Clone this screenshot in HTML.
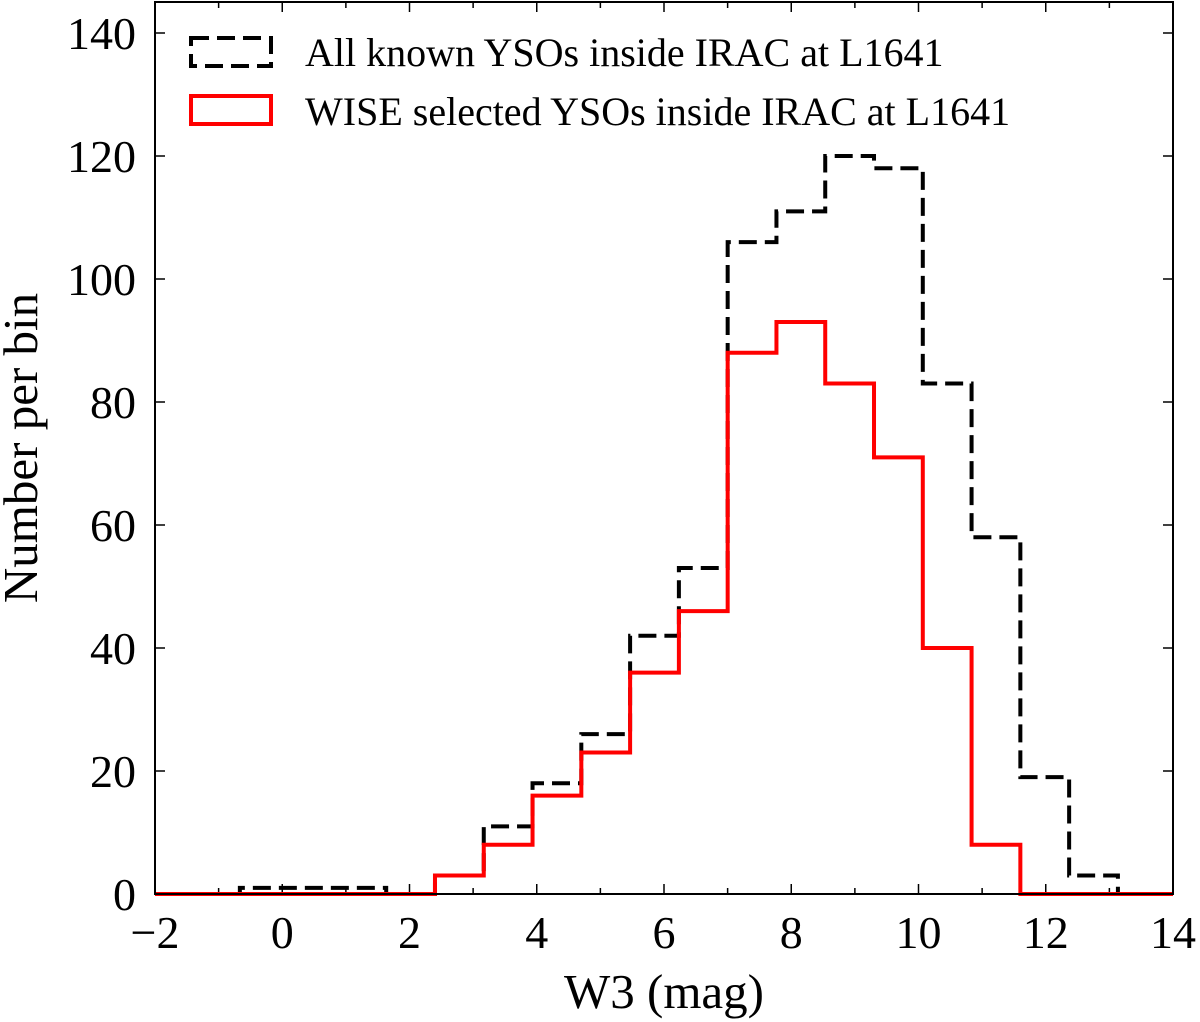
<!DOCTYPE html>
<html><head><meta charset="utf-8"><style>
html,body{margin:0;padding:0;background:#fff;}
svg{display:block;font-family:"Liberation Serif",serif;}
</style></head><body>
<svg id="chart" width="1200" height="1022" viewBox="0 0 1200 1022" xmlns="http://www.w3.org/2000/svg">
<g id="ticks"></g>
<g id="series"></g>
<rect x="155" y="2" width="1018" height="892" fill="none" stroke="#000" stroke-width="2"/>
<g id="labels"></g>
<text x="664" y="1008" font-size="49" text-anchor="middle">W3 (mag)</text>
<text transform="translate(37,448) rotate(-90)" font-size="49" text-anchor="middle">Number per bin</text>
<g>
<rect x="191" y="38" width="80" height="28" fill="none" stroke="#000" stroke-width="4" stroke-dasharray="18,8"/>
<text x="305" y="66" font-size="40">All known YSOs inside IRAC at L1641</text>
<rect x="191" y="96" width="80" height="28" fill="none" stroke="#f00" stroke-width="4"/>
<text x="305" y="125" font-size="40">WISE selected YSOs inside IRAC at L1641</text>
</g>
</svg>
<script>
const binEdges0 = -1.433; // first bin left edge (mag)
const binWidth = 0.7667;
const allCounts = [0, 1, 1, 1, 0, 3, 11, 18, 26, 42, 53, 106, 111, 120, 118, 83, 58, 19, 3, 0];
const wiseCounts = [0, 0, 0, 0, 0, 3, 8, 16, 23, 36, 46, 88, 93, 83, 71, 40, 8, 0, 0, 0];
const xTicks = [-2, 0, 2, 4, 6, 8, 10, 12, 14];
const yTicks = [0, 20, 40, 60, 80, 100, 120, 140];
const NS = "http://www.w3.org/2000/svg";
const X0=155, X1=1173, Y0=894, YT=2;
const xs = v => X0 + (v + 2) / 16 * (X1 - X0);
const ys = v => Y0 - v / 140 * (894 - 33);
function mk(tag, parent){const e=document.createElementNS(NS,tag);document.getElementById(parent).appendChild(e);return e;}
for (let v=-2; v<=14; v++){
  const major = v%2===0, L = major?10:6;
  const t1=mk('line','ticks');
  
  
  t1.setAttribute('x1',xs(v));t1.setAttribute('x2',xs(v));t1.setAttribute('y1',Y0);t1.setAttribute('y2',Y0-L);t1.setAttribute('stroke','#000');t1.setAttribute('stroke-width','1.5');
  const t2=mk('line','ticks');
  
  
  t2.setAttribute('x1',xs(v));t2.setAttribute('x2',xs(v));t2.setAttribute('y1',YT);t2.setAttribute('y2',YT+L);t2.setAttribute('stroke','#000');t2.setAttribute('stroke-width','1.5');
}
xTicks.forEach(v=>{
  const t=mk('text','labels');
  
  
  t.setAttribute('x',xs(v));t.setAttribute('y',948);t.setAttribute('font-size','46');t.setAttribute('text-anchor','middle');
  t.textContent = v<0 ? '\u2212'+(-v) : String(v);
});
yTicks.forEach(v=>{
  [[X0,X0+10],[X1,X1-10]].forEach(p=>{
    const l=mk('line','ticks');
    
    
    l.setAttribute('x1',p[0]);l.setAttribute('x2',p[1]);l.setAttribute('y1',ys(v));l.setAttribute('y2',ys(v));l.setAttribute('stroke','#000');l.setAttribute('stroke-width','1.5');
  });
  const t=mk('text','labels');
  
  
  t.setAttribute('x',136);t.setAttribute('y',ys(v)+16);t.setAttribute('font-size','46');t.setAttribute('text-anchor','end');
  t.textContent=String(v);
});
function stepPath(counts){
  let d='M'+X0+','+ys(0);
  counts.forEach((c,i)=>{
    const a=Math.max(X0,xs(binEdges0+i*binWidth)), b=Math.min(X1,xs(binEdges0+(i+1)*binWidth));
    d+=' L'+a+','+ys(c)+' L'+b+','+ys(c);
  });
  d+=' L'+X1+','+ys(0);
  return d;
}
const pa=mk('path','series');


pa.setAttribute('d',stepPath(allCounts));pa.setAttribute('fill','none');pa.setAttribute('stroke','#000');pa.setAttribute('stroke-width','4');pa.setAttribute('stroke-dasharray','18,8');
const pw=mk('path','series');


pw.setAttribute('d',stepPath(wiseCounts));pw.setAttribute('fill','none');pw.setAttribute('stroke','#f00');pw.setAttribute('stroke-width','4');
</script>
</body></html>
